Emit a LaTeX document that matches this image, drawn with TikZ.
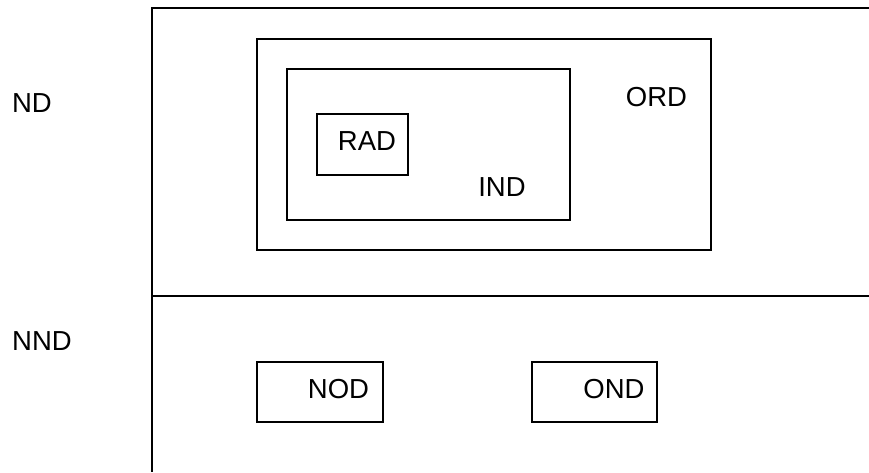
\documentclass[tikz,border=0pt]{standalone}
\usepackage{fontspec}
\setmainfont{Liberation Sans}
\begin{document}
\begin{tikzpicture}[x=1pt,y=-1pt,
  boxr/.style={draw=black,line width=1.6pt,rectangle,inner sep=0pt},
  lbl/.style={inner sep=0pt,text height=20pt,text depth=0pt,font=\fontsize{27.5}{30}\selectfont},
  frameline/.style={draw=black,line width=2pt}]
\useasboundingbox (0,0) rectangle (869,472);
% frame
\coordinate (tl) at (151.5,8);
\coordinate (tr) at (869,8);
\coordinate (bl) at (151.5,472);
\coordinate (ml) at (151.5,295.5);
\coordinate (mr) at (869,295.5);
\draw[frameline] (tr) -- (tl) -- (bl);
\draw[frameline] (ml) -- (mr);
% boxes
\node[boxr,minimum width=454pt,minimum height=211pt] (ord) at (484,144.5) {};
\node[boxr,minimum width=283pt,minimum height=151pt] (ind) at (428.5,144.5) {};
\node[boxr,minimum width=91pt,minimum height=61pt] (rad) at (362.5,144.5) {};
\node[boxr,minimum width=126pt,minimum height=60pt] (nod) at (320,392) {};
\node[boxr,minimum width=125pt,minimum height=60pt] (ond) at (594.5,392) {};
% labels
\node[lbl] (tnd) at (32,102) {ND};
\node[lbl] (tnnd) at (42,340.5) {NND};
\node[lbl] (tord) at (656.5,96) {ORD};
\node[lbl] (tind) at (502,186) {IND};
\node[lbl] (trad) at (367,140.5) {RAD};
\node[lbl] (tnod) at (338.5,388.5) {NOD};
\node[lbl] (tond) at (614,388.5) {OND};
\end{tikzpicture}
\end{document}
